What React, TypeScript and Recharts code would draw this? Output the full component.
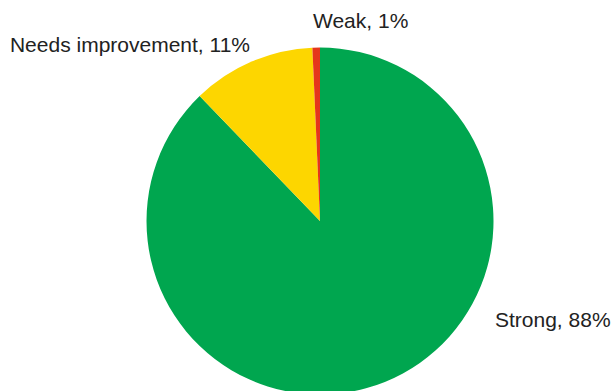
import { PieChart, Pie, Cell } from 'recharts';

const categories = ['Strong', 'Needs improvement', 'Weak'];
const shares = [87.8, 11.5, 0.7];
const shareLabels = ['88%', '11%', '1%'];
const colors = ['#00a64f', '#fdd600', '#e5361b'];

const data = categories.map((name, i) => ({ name, value: shares[i], label: shareLabels[i] }));

// where each label sits, relative to the pie centre
const labelSpots: Record<string, { dx: number; dy: number; anchor: 'start' | 'end' }> = {
  Strong: { dx: 175, dy: 106, anchor: 'start' },
  'Needs improvement': { dx: -70, dy: -169, anchor: 'end' },
  Weak: { dx: -7, dy: -193, anchor: 'start' },
};

const renderLabel = (props: any) => {
  const { cx, cy, payload } = props;
  const spot = labelSpots[payload.name];
  if (!spot) return null;
  return (
    <text
      x={cx + spot.dx}
      y={cy + spot.dy}
      textAnchor={spot.anchor}
      fill="#222"
      fontSize={21}
      fontFamily="'Liberation Sans', Arial, sans-serif"
    >
      {`${payload.name}, ${payload.label}`}
    </text>
  );
};

export default function App() {
  return (
    <div style={{ position: 'absolute', left: 0, top: 0, width: 611, height: 391, background: '#fff', overflow: 'hidden' }}>
      <PieChart width={611} height={391} margin={{ top: 0, right: 0, bottom: 0, left: 0 }}>
        <Pie
          data={data}
          dataKey="value"
          nameKey="name"
          cx={320}
          cy={221}
          outerRadius={173.5}
          startAngle={90}
          endAngle={-270}
          stroke="none"
          label={renderLabel}
          labelLine={false}
          isAnimationActive={false}
        >
          {data.map((d, i) => (
            <Cell key={d.name} fill={colors[i]} />
          ))}
        </Pie>
      </PieChart>
    </div>
  );
}
